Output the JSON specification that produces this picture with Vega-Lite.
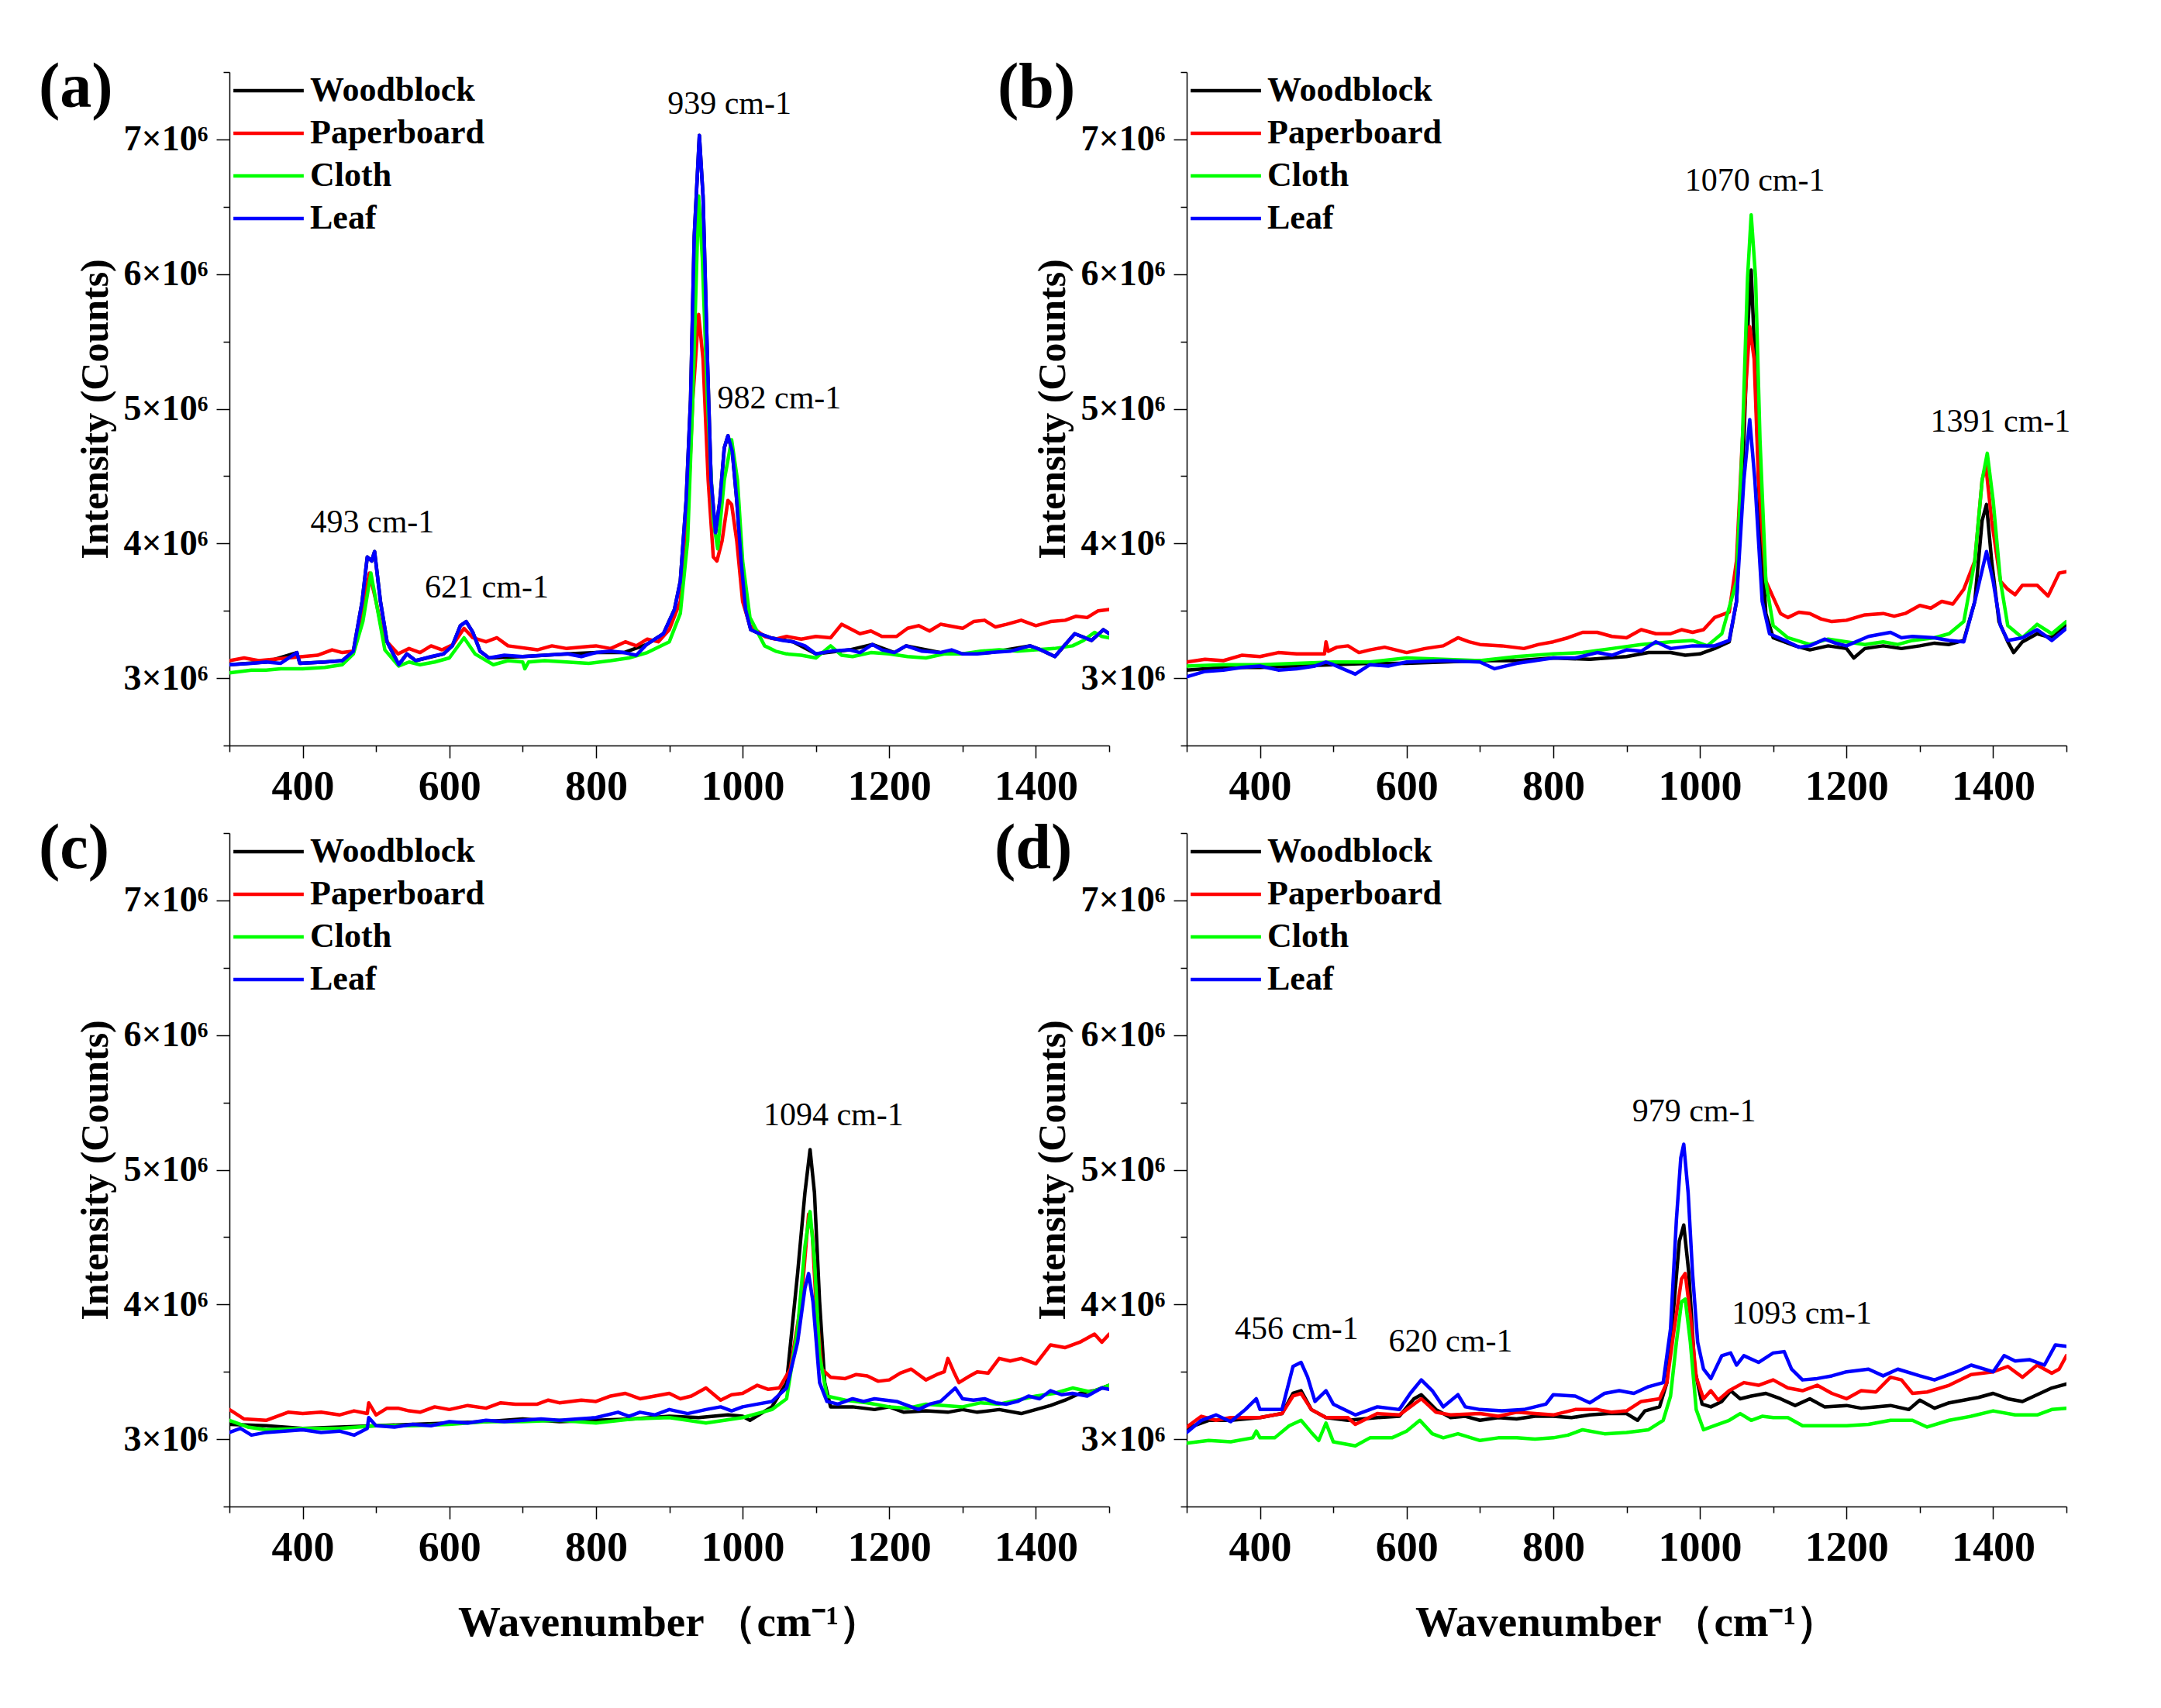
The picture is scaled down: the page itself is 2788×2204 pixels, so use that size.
{
"$schema": "https://vega.github.io/schema/vega-lite/v6.json",
"background": "white",
"padding": {"left": 50, "top": 71, "right": 40, "bottom": 40},
"columns": 2,
"bounds": "flush",
"spacing": {"row": 113, "column": 100},
"resolve": {"legend": {"color": "independent"}},
"config": {
  "view": {"stroke": null},
  "axis": {"labelFont": "Liberation Serif", "titleFont": "Liberation Serif", "labelFontWeight": "bold", "titleFontWeight": "bold", "labelColor": "black", "titleColor": "black", "domainColor": "black", "tickColor": "black", "domainWidth": 1.5, "tickWidth": 1.5, "grid": false},
  "legend": {"labelFont": "Liberation Serif", "labelFontWeight": "bold", "labelFontSize": 44, "labelColor": "black", "orient": "none", "legendX": 18, "legendY": -8.5, "title": null, "symbolType": "M-1.5,0H1.5", "symbolSize": 3660, "symbolStrokeWidth": 4.5, "labelOffset": 21, "rowPadding": 0, "padding": 0, "labelLimit": 0},
  "text": {"font": "Liberation Serif"},
  "line": {"strokeWidth": 4.5, "strokeJoin": "round", "strokeCap": "round"},
  "title": {"anchor": "start", "frame": "group", "orient": "top", "offset": -24, "dy": 46, "baseline": "alphabetic", "font": "Liberation Serif", "fontSize": 82, "fontWeight": "bold", "color": "black"}
},
"datasets": {
"a": [
{"s":"Woodblock","x":300,"y":3100000},{"s":"Woodblock","x":350,"y":3120000},{"s":"Woodblock","x":392,"y":3190000},{"s":"Woodblock","x":396,"y":3110000},{"s":"Woodblock","x":430,"y":3120000},{"s":"Woodblock","x":454,"y":3130000},{"s":"Woodblock","x":469,"y":3200000},{"s":"Woodblock","x":481,"y":3570000},{"s":"Woodblock","x":488,"y":3900000},{"s":"Woodblock","x":494,"y":3870000},{"s":"Woodblock","x":498,"y":3940000},{"s":"Woodblock","x":506,"y":3570000},{"s":"Woodblock","x":515,"y":3270000},{"s":"Woodblock","x":531,"y":3100000},{"s":"Woodblock","x":542,"y":3180000},{"s":"Woodblock","x":554,"y":3130000},{"s":"Woodblock","x":592,"y":3180000},{"s":"Woodblock","x":604,"y":3240000},{"s":"Woodblock","x":615,"y":3390000},{"s":"Woodblock","x":623,"y":3420000},{"s":"Woodblock","x":632,"y":3340000},{"s":"Woodblock","x":642,"y":3200000},{"s":"Woodblock","x":654,"y":3150000},{"s":"Woodblock","x":700,"y":3160000},{"s":"Woodblock","x":761,"y":3180000},{"s":"Woodblock","x":800,"y":3190000},{"s":"Woodblock","x":838,"y":3190000},{"s":"Woodblock","x":869,"y":3250000},{"s":"Woodblock","x":892,"y":3330000},{"s":"Woodblock","x":907,"y":3510000},{"s":"Woodblock","x":915,"y":3720000},{"s":"Woodblock","x":923,"y":4320000},{"s":"Woodblock","x":929,"y":5070000},{"s":"Woodblock","x":934,"y":6280000},{"s":"Woodblock","x":941,"y":7030000},{"s":"Woodblock","x":946,"y":6580000},{"s":"Woodblock","x":952,"y":5370000},{"s":"Woodblock","x":957,"y":4470000},{"s":"Woodblock","x":963,"y":4080000},{"s":"Woodblock","x":969,"y":4320000},{"s":"Woodblock","x":975,"y":4710000},{"s":"Woodblock","x":980,"y":4800000},{"s":"Woodblock","x":986,"y":4680000},{"s":"Woodblock","x":992,"y":4320000},{"s":"Woodblock","x":998,"y":3870000},{"s":"Woodblock","x":1004,"y":3510000},{"s":"Woodblock","x":1011,"y":3360000},{"s":"Woodblock","x":1023,"y":3330000},{"s":"Woodblock","x":1038,"y":3300000},{"s":"Woodblock","x":1069,"y":3270000},{"s":"Woodblock","x":1100,"y":3180000},{"s":"Woodblock","x":1146,"y":3210000},{"s":"Woodblock","x":1177,"y":3250000},{"s":"Woodblock","x":1207,"y":3190000},{"s":"Woodblock","x":1223,"y":3240000},{"s":"Woodblock","x":1269,"y":3190000},{"s":"Woodblock","x":1300,"y":3180000},{"s":"Woodblock","x":1338,"y":3190000},{"s":"Woodblock","x":1392,"y":3240000},{"s":"Woodblock","x":1407,"y":3210000},{"s":"Woodblock","x":1426,"y":3160000},{"s":"Woodblock","x":1453,"y":3330000},{"s":"Woodblock","x":1476,"y":3280000},{"s":"Woodblock","x":1492,"y":3360000},{"s":"Woodblock","x":1500,"y":3330000},
{"s":"Paperboard","x":300,"y":3130000},{"s":"Paperboard","x":320,"y":3150000},{"s":"Paperboard","x":340,"y":3130000},{"s":"Paperboard","x":380,"y":3150000},{"s":"Paperboard","x":420,"y":3170000},{"s":"Paperboard","x":440,"y":3210000},{"s":"Paperboard","x":454,"y":3190000},{"s":"Paperboard","x":469,"y":3200000},{"s":"Paperboard","x":481,"y":3480000},{"s":"Paperboard","x":491,"y":3780000},{"s":"Paperboard","x":500,"y":3570000},{"s":"Paperboard","x":510,"y":3300000},{"s":"Paperboard","x":530,"y":3180000},{"s":"Paperboard","x":545,"y":3220000},{"s":"Paperboard","x":560,"y":3190000},{"s":"Paperboard","x":575,"y":3240000},{"s":"Paperboard","x":590,"y":3210000},{"s":"Paperboard","x":605,"y":3250000},{"s":"Paperboard","x":620,"y":3370000},{"s":"Paperboard","x":632,"y":3300000},{"s":"Paperboard","x":650,"y":3270000},{"s":"Paperboard","x":665,"y":3300000},{"s":"Paperboard","x":680,"y":3240000},{"s":"Paperboard","x":720,"y":3210000},{"s":"Paperboard","x":740,"y":3240000},{"s":"Paperboard","x":760,"y":3220000},{"s":"Paperboard","x":800,"y":3240000},{"s":"Paperboard","x":820,"y":3220000},{"s":"Paperboard","x":840,"y":3270000},{"s":"Paperboard","x":855,"y":3240000},{"s":"Paperboard","x":870,"y":3290000},{"s":"Paperboard","x":885,"y":3270000},{"s":"Paperboard","x":900,"y":3360000},{"s":"Paperboard","x":915,"y":3570000},{"s":"Paperboard","x":925,"y":4170000},{"s":"Paperboard","x":932,"y":5070000},{"s":"Paperboard","x":940,"y":5700000},{"s":"Paperboard","x":946,"y":5370000},{"s":"Paperboard","x":953,"y":4470000},{"s":"Paperboard","x":960,"y":3900000},{"s":"Paperboard","x":965,"y":3870000},{"s":"Paperboard","x":972,"y":4020000},{"s":"Paperboard","x":980,"y":4320000},{"s":"Paperboard","x":985,"y":4290000},{"s":"Paperboard","x":992,"y":4020000},{"s":"Paperboard","x":1000,"y":3570000},{"s":"Paperboard","x":1010,"y":3390000},{"s":"Paperboard","x":1030,"y":3310000},{"s":"Paperboard","x":1045,"y":3290000},{"s":"Paperboard","x":1060,"y":3310000},{"s":"Paperboard","x":1080,"y":3290000},{"s":"Paperboard","x":1100,"y":3310000},{"s":"Paperboard","x":1120,"y":3300000},{"s":"Paperboard","x":1135,"y":3400000},{"s":"Paperboard","x":1160,"y":3330000},{"s":"Paperboard","x":1175,"y":3350000},{"s":"Paperboard","x":1190,"y":3310000},{"s":"Paperboard","x":1210,"y":3310000},{"s":"Paperboard","x":1225,"y":3370000},{"s":"Paperboard","x":1240,"y":3390000},{"s":"Paperboard","x":1255,"y":3350000},{"s":"Paperboard","x":1270,"y":3400000},{"s":"Paperboard","x":1290,"y":3380000},{"s":"Paperboard","x":1300,"y":3370000},{"s":"Paperboard","x":1315,"y":3420000},{"s":"Paperboard","x":1330,"y":3430000},{"s":"Paperboard","x":1345,"y":3380000},{"s":"Paperboard","x":1360,"y":3400000},{"s":"Paperboard","x":1380,"y":3430000},{"s":"Paperboard","x":1400,"y":3390000},{"s":"Paperboard","x":1420,"y":3420000},{"s":"Paperboard","x":1440,"y":3430000},{"s":"Paperboard","x":1455,"y":3460000},{"s":"Paperboard","x":1470,"y":3450000},{"s":"Paperboard","x":1485,"y":3500000},{"s":"Paperboard","x":1500,"y":3510000},
{"s":"Cloth","x":300,"y":3040000},{"s":"Cloth","x":330,"y":3060000},{"s":"Cloth","x":350,"y":3060000},{"s":"Cloth","x":370,"y":3070000},{"s":"Cloth","x":400,"y":3070000},{"s":"Cloth","x":430,"y":3080000},{"s":"Cloth","x":454,"y":3100000},{"s":"Cloth","x":469,"y":3180000},{"s":"Cloth","x":482,"y":3420000},{"s":"Cloth","x":493,"y":3780000},{"s":"Cloth","x":500,"y":3570000},{"s":"Cloth","x":512,"y":3210000},{"s":"Cloth","x":531,"y":3090000},{"s":"Cloth","x":545,"y":3120000},{"s":"Cloth","x":560,"y":3100000},{"s":"Cloth","x":580,"y":3120000},{"s":"Cloth","x":600,"y":3150000},{"s":"Cloth","x":620,"y":3300000},{"s":"Cloth","x":635,"y":3180000},{"s":"Cloth","x":660,"y":3100000},{"s":"Cloth","x":680,"y":3130000},{"s":"Cloth","x":700,"y":3120000},{"s":"Cloth","x":703,"y":3070000},{"s":"Cloth","x":708,"y":3120000},{"s":"Cloth","x":730,"y":3130000},{"s":"Cloth","x":760,"y":3120000},{"s":"Cloth","x":790,"y":3110000},{"s":"Cloth","x":820,"y":3130000},{"s":"Cloth","x":845,"y":3150000},{"s":"Cloth","x":870,"y":3190000},{"s":"Cloth","x":900,"y":3270000},{"s":"Cloth","x":915,"y":3480000},{"s":"Cloth","x":925,"y":4020000},{"s":"Cloth","x":932,"y":5070000},{"s":"Cloth","x":940,"y":6580000},{"s":"Cloth","x":945,"y":6120000},{"s":"Cloth","x":952,"y":5070000},{"s":"Cloth","x":960,"y":4170000},{"s":"Cloth","x":966,"y":3960000},{"s":"Cloth","x":975,"y":4470000},{"s":"Cloth","x":985,"y":4770000},{"s":"Cloth","x":993,"y":4470000},{"s":"Cloth","x":1000,"y":3870000},{"s":"Cloth","x":1010,"y":3450000},{"s":"Cloth","x":1030,"y":3240000},{"s":"Cloth","x":1045,"y":3200000},{"s":"Cloth","x":1060,"y":3180000},{"s":"Cloth","x":1080,"y":3170000},{"s":"Cloth","x":1100,"y":3150000},{"s":"Cloth","x":1120,"y":3240000},{"s":"Cloth","x":1135,"y":3170000},{"s":"Cloth","x":1150,"y":3160000},{"s":"Cloth","x":1175,"y":3190000},{"s":"Cloth","x":1200,"y":3180000},{"s":"Cloth","x":1225,"y":3160000},{"s":"Cloth","x":1250,"y":3150000},{"s":"Cloth","x":1275,"y":3180000},{"s":"Cloth","x":1300,"y":3180000},{"s":"Cloth","x":1325,"y":3200000},{"s":"Cloth","x":1350,"y":3210000},{"s":"Cloth","x":1375,"y":3200000},{"s":"Cloth","x":1400,"y":3210000},{"s":"Cloth","x":1425,"y":3220000},{"s":"Cloth","x":1450,"y":3240000},{"s":"Cloth","x":1465,"y":3280000},{"s":"Cloth","x":1480,"y":3340000},{"s":"Cloth","x":1490,"y":3310000},{"s":"Cloth","x":1500,"y":3300000},
{"s":"Leaf","x":300,"y":3100000},{"s":"Leaf","x":330,"y":3110000},{"s":"Leaf","x":350,"y":3120000},{"s":"Leaf","x":370,"y":3110000},{"s":"Leaf","x":392,"y":3190000},{"s":"Leaf","x":396,"y":3110000},{"s":"Leaf","x":430,"y":3120000},{"s":"Leaf","x":454,"y":3130000},{"s":"Leaf","x":469,"y":3200000},{"s":"Leaf","x":481,"y":3570000},{"s":"Leaf","x":488,"y":3900000},{"s":"Leaf","x":494,"y":3870000},{"s":"Leaf","x":498,"y":3940000},{"s":"Leaf","x":506,"y":3570000},{"s":"Leaf","x":515,"y":3270000},{"s":"Leaf","x":531,"y":3100000},{"s":"Leaf","x":542,"y":3180000},{"s":"Leaf","x":554,"y":3130000},{"s":"Leaf","x":575,"y":3160000},{"s":"Leaf","x":592,"y":3180000},{"s":"Leaf","x":604,"y":3240000},{"s":"Leaf","x":615,"y":3390000},{"s":"Leaf","x":623,"y":3420000},{"s":"Leaf","x":632,"y":3340000},{"s":"Leaf","x":642,"y":3200000},{"s":"Leaf","x":654,"y":3150000},{"s":"Leaf","x":675,"y":3170000},{"s":"Leaf","x":700,"y":3160000},{"s":"Leaf","x":730,"y":3170000},{"s":"Leaf","x":761,"y":3180000},{"s":"Leaf","x":780,"y":3160000},{"s":"Leaf","x":800,"y":3190000},{"s":"Leaf","x":820,"y":3200000},{"s":"Leaf","x":838,"y":3190000},{"s":"Leaf","x":855,"y":3170000},{"s":"Leaf","x":869,"y":3250000},{"s":"Leaf","x":892,"y":3330000},{"s":"Leaf","x":907,"y":3510000},{"s":"Leaf","x":915,"y":3720000},{"s":"Leaf","x":923,"y":4320000},{"s":"Leaf","x":929,"y":5070000},{"s":"Leaf","x":934,"y":6280000},{"s":"Leaf","x":941,"y":7030000},{"s":"Leaf","x":946,"y":6580000},{"s":"Leaf","x":952,"y":5370000},{"s":"Leaf","x":957,"y":4470000},{"s":"Leaf","x":963,"y":4080000},{"s":"Leaf","x":969,"y":4320000},{"s":"Leaf","x":975,"y":4710000},{"s":"Leaf","x":980,"y":4800000},{"s":"Leaf","x":986,"y":4680000},{"s":"Leaf","x":992,"y":4320000},{"s":"Leaf","x":998,"y":3870000},{"s":"Leaf","x":1004,"y":3510000},{"s":"Leaf","x":1011,"y":3360000},{"s":"Leaf","x":1023,"y":3330000},{"s":"Leaf","x":1038,"y":3300000},{"s":"Leaf","x":1055,"y":3280000},{"s":"Leaf","x":1069,"y":3270000},{"s":"Leaf","x":1085,"y":3240000},{"s":"Leaf","x":1100,"y":3180000},{"s":"Leaf","x":1120,"y":3200000},{"s":"Leaf","x":1146,"y":3210000},{"s":"Leaf","x":1160,"y":3190000},{"s":"Leaf","x":1177,"y":3250000},{"s":"Leaf","x":1190,"y":3210000},{"s":"Leaf","x":1207,"y":3190000},{"s":"Leaf","x":1223,"y":3240000},{"s":"Leaf","x":1245,"y":3200000},{"s":"Leaf","x":1269,"y":3190000},{"s":"Leaf","x":1285,"y":3210000},{"s":"Leaf","x":1300,"y":3180000},{"s":"Leaf","x":1320,"y":3180000},{"s":"Leaf","x":1338,"y":3190000},{"s":"Leaf","x":1365,"y":3200000},{"s":"Leaf","x":1392,"y":3240000},{"s":"Leaf","x":1407,"y":3210000},{"s":"Leaf","x":1426,"y":3160000},{"s":"Leaf","x":1440,"y":3250000},{"s":"Leaf","x":1453,"y":3330000},{"s":"Leaf","x":1476,"y":3280000},{"s":"Leaf","x":1492,"y":3360000},{"s":"Leaf","x":1500,"y":3330000}
],
"aT": [{"t":"493 cm-1","x":495,"y":4080000},{"t":"621 cm-1","x":651,"y":3600000},{"t":"939 cm-1","x":982,"y":7190000},{"t":"982 cm-1","x":1050,"y":5005000}],
"b": [
{"s":"Woodblock","x":300,"y":3060000},{"s":"Woodblock","x":350,"y":3080000},{"s":"Woodblock","x":400,"y":3080000},{"s":"Woodblock","x":450,"y":3090000},{"s":"Woodblock","x":500,"y":3100000},{"s":"Woodblock","x":550,"y":3110000},{"s":"Woodblock","x":600,"y":3110000},{"s":"Woodblock","x":650,"y":3120000},{"s":"Woodblock","x":700,"y":3130000},{"s":"Woodblock","x":750,"y":3130000},{"s":"Woodblock","x":800,"y":3150000},{"s":"Woodblock","x":850,"y":3140000},{"s":"Woodblock","x":900,"y":3160000},{"s":"Woodblock","x":930,"y":3190000},{"s":"Woodblock","x":960,"y":3190000},{"s":"Woodblock","x":980,"y":3170000},{"s":"Woodblock","x":1000,"y":3180000},{"s":"Woodblock","x":1020,"y":3220000},{"s":"Woodblock","x":1040,"y":3270000},{"s":"Woodblock","x":1050,"y":3570000},{"s":"Woodblock","x":1060,"y":4770000},{"s":"Woodblock","x":1066,"y":5670000},{"s":"Woodblock","x":1070,"y":6030000},{"s":"Woodblock","x":1075,"y":5370000},{"s":"Woodblock","x":1082,"y":4170000},{"s":"Woodblock","x":1090,"y":3480000},{"s":"Woodblock","x":1100,"y":3300000},{"s":"Woodblock","x":1115,"y":3270000},{"s":"Woodblock","x":1130,"y":3240000},{"s":"Woodblock","x":1150,"y":3210000},{"s":"Woodblock","x":1175,"y":3240000},{"s":"Woodblock","x":1200,"y":3220000},{"s":"Woodblock","x":1210,"y":3150000},{"s":"Woodblock","x":1225,"y":3220000},{"s":"Woodblock","x":1250,"y":3240000},{"s":"Woodblock","x":1275,"y":3220000},{"s":"Woodblock","x":1300,"y":3240000},{"s":"Woodblock","x":1320,"y":3260000},{"s":"Woodblock","x":1340,"y":3250000},{"s":"Woodblock","x":1360,"y":3280000},{"s":"Woodblock","x":1375,"y":3570000},{"s":"Woodblock","x":1385,"y":4170000},{"s":"Woodblock","x":1391,"y":4290000},{"s":"Woodblock","x":1398,"y":3870000},{"s":"Woodblock","x":1408,"y":3420000},{"s":"Woodblock","x":1420,"y":3270000},{"s":"Woodblock","x":1428,"y":3190000},{"s":"Woodblock","x":1440,"y":3270000},{"s":"Woodblock","x":1460,"y":3330000},{"s":"Woodblock","x":1480,"y":3300000},{"s":"Woodblock","x":1500,"y":3390000},
{"s":"Paperboard","x":300,"y":3120000},{"s":"Paperboard","x":325,"y":3140000},{"s":"Paperboard","x":350,"y":3130000},{"s":"Paperboard","x":375,"y":3170000},{"s":"Paperboard","x":400,"y":3160000},{"s":"Paperboard","x":425,"y":3190000},{"s":"Paperboard","x":450,"y":3180000},{"s":"Paperboard","x":488,"y":3180000},{"s":"Paperboard","x":490,"y":3270000},{"s":"Paperboard","x":493,"y":3200000},{"s":"Paperboard","x":505,"y":3230000},{"s":"Paperboard","x":520,"y":3240000},{"s":"Paperboard","x":535,"y":3190000},{"s":"Paperboard","x":550,"y":3210000},{"s":"Paperboard","x":570,"y":3230000},{"s":"Paperboard","x":600,"y":3190000},{"s":"Paperboard","x":625,"y":3220000},{"s":"Paperboard","x":650,"y":3240000},{"s":"Paperboard","x":670,"y":3300000},{"s":"Paperboard","x":685,"y":3270000},{"s":"Paperboard","x":700,"y":3250000},{"s":"Paperboard","x":730,"y":3240000},{"s":"Paperboard","x":760,"y":3220000},{"s":"Paperboard","x":780,"y":3250000},{"s":"Paperboard","x":800,"y":3270000},{"s":"Paperboard","x":820,"y":3300000},{"s":"Paperboard","x":840,"y":3340000},{"s":"Paperboard","x":860,"y":3340000},{"s":"Paperboard","x":880,"y":3310000},{"s":"Paperboard","x":900,"y":3300000},{"s":"Paperboard","x":920,"y":3360000},{"s":"Paperboard","x":940,"y":3330000},{"s":"Paperboard","x":960,"y":3330000},{"s":"Paperboard","x":975,"y":3360000},{"s":"Paperboard","x":990,"y":3340000},{"s":"Paperboard","x":1005,"y":3360000},{"s":"Paperboard","x":1020,"y":3450000},{"s":"Paperboard","x":1040,"y":3490000},{"s":"Paperboard","x":1050,"y":3870000},{"s":"Paperboard","x":1058,"y":4770000},{"s":"Paperboard","x":1068,"y":5610000},{"s":"Paperboard","x":1074,"y":5370000},{"s":"Paperboard","x":1080,"y":4470000},{"s":"Paperboard","x":1090,"y":3720000},{"s":"Paperboard","x":1100,"y":3600000},{"s":"Paperboard","x":1110,"y":3480000},{"s":"Paperboard","x":1120,"y":3450000},{"s":"Paperboard","x":1135,"y":3490000},{"s":"Paperboard","x":1150,"y":3480000},{"s":"Paperboard","x":1165,"y":3440000},{"s":"Paperboard","x":1180,"y":3420000},{"s":"Paperboard","x":1200,"y":3430000},{"s":"Paperboard","x":1225,"y":3470000},{"s":"Paperboard","x":1250,"y":3480000},{"s":"Paperboard","x":1265,"y":3460000},{"s":"Paperboard","x":1280,"y":3480000},{"s":"Paperboard","x":1300,"y":3540000},{"s":"Paperboard","x":1315,"y":3520000},{"s":"Paperboard","x":1330,"y":3570000},{"s":"Paperboard","x":1345,"y":3550000},{"s":"Paperboard","x":1360,"y":3660000},{"s":"Paperboard","x":1375,"y":3870000},{"s":"Paperboard","x":1385,"y":4470000},{"s":"Paperboard","x":1390,"y":4580000},{"s":"Paperboard","x":1398,"y":4170000},{"s":"Paperboard","x":1410,"y":3720000},{"s":"Paperboard","x":1420,"y":3660000},{"s":"Paperboard","x":1430,"y":3620000},{"s":"Paperboard","x":1440,"y":3690000},{"s":"Paperboard","x":1460,"y":3690000},{"s":"Paperboard","x":1475,"y":3610000},{"s":"Paperboard","x":1490,"y":3780000},{"s":"Paperboard","x":1500,"y":3790000},
{"s":"Cloth","x":300,"y":3090000},{"s":"Cloth","x":350,"y":3100000},{"s":"Cloth","x":400,"y":3100000},{"s":"Cloth","x":450,"y":3110000},{"s":"Cloth","x":500,"y":3120000},{"s":"Cloth","x":550,"y":3120000},{"s":"Cloth","x":600,"y":3150000},{"s":"Cloth","x":650,"y":3140000},{"s":"Cloth","x":700,"y":3130000},{"s":"Cloth","x":750,"y":3160000},{"s":"Cloth","x":800,"y":3180000},{"s":"Cloth","x":840,"y":3190000},{"s":"Cloth","x":880,"y":3220000},{"s":"Cloth","x":920,"y":3250000},{"s":"Cloth","x":960,"y":3270000},{"s":"Cloth","x":990,"y":3280000},{"s":"Cloth","x":1010,"y":3240000},{"s":"Cloth","x":1030,"y":3330000},{"s":"Cloth","x":1050,"y":3720000},{"s":"Cloth","x":1058,"y":4770000},{"s":"Cloth","x":1065,"y":5970000},{"s":"Cloth","x":1070,"y":6440000},{"s":"Cloth","x":1076,"y":5970000},{"s":"Cloth","x":1082,"y":4770000},{"s":"Cloth","x":1090,"y":3720000},{"s":"Cloth","x":1100,"y":3390000},{"s":"Cloth","x":1120,"y":3300000},{"s":"Cloth","x":1150,"y":3250000},{"s":"Cloth","x":1175,"y":3290000},{"s":"Cloth","x":1200,"y":3270000},{"s":"Cloth","x":1225,"y":3250000},{"s":"Cloth","x":1250,"y":3270000},{"s":"Cloth","x":1270,"y":3250000},{"s":"Cloth","x":1290,"y":3280000},{"s":"Cloth","x":1320,"y":3300000},{"s":"Cloth","x":1340,"y":3330000},{"s":"Cloth","x":1360,"y":3420000},{"s":"Cloth","x":1375,"y":3870000},{"s":"Cloth","x":1385,"y":4470000},{"s":"Cloth","x":1392,"y":4670000},{"s":"Cloth","x":1400,"y":4320000},{"s":"Cloth","x":1410,"y":3720000},{"s":"Cloth","x":1420,"y":3390000},{"s":"Cloth","x":1440,"y":3300000},{"s":"Cloth","x":1460,"y":3400000},{"s":"Cloth","x":1480,"y":3330000},{"s":"Cloth","x":1500,"y":3420000},
{"s":"Leaf","x":300,"y":3010000},{"s":"Leaf","x":325,"y":3050000},{"s":"Leaf","x":350,"y":3060000},{"s":"Leaf","x":375,"y":3080000},{"s":"Leaf","x":400,"y":3090000},{"s":"Leaf","x":425,"y":3060000},{"s":"Leaf","x":450,"y":3070000},{"s":"Leaf","x":475,"y":3090000},{"s":"Leaf","x":490,"y":3120000},{"s":"Leaf","x":500,"y":3100000},{"s":"Leaf","x":530,"y":3030000},{"s":"Leaf","x":550,"y":3100000},{"s":"Leaf","x":575,"y":3090000},{"s":"Leaf","x":600,"y":3120000},{"s":"Leaf","x":650,"y":3130000},{"s":"Leaf","x":700,"y":3120000},{"s":"Leaf","x":720,"y":3070000},{"s":"Leaf","x":750,"y":3110000},{"s":"Leaf","x":800,"y":3150000},{"s":"Leaf","x":830,"y":3150000},{"s":"Leaf","x":860,"y":3190000},{"s":"Leaf","x":880,"y":3170000},{"s":"Leaf","x":900,"y":3210000},{"s":"Leaf","x":920,"y":3200000},{"s":"Leaf","x":940,"y":3270000},{"s":"Leaf","x":960,"y":3220000},{"s":"Leaf","x":990,"y":3240000},{"s":"Leaf","x":1020,"y":3240000},{"s":"Leaf","x":1040,"y":3280000},{"s":"Leaf","x":1050,"y":3570000},{"s":"Leaf","x":1060,"y":4470000},{"s":"Leaf","x":1068,"y":4920000},{"s":"Leaf","x":1075,"y":4470000},{"s":"Leaf","x":1085,"y":3570000},{"s":"Leaf","x":1095,"y":3330000},{"s":"Leaf","x":1120,"y":3270000},{"s":"Leaf","x":1135,"y":3230000},{"s":"Leaf","x":1150,"y":3240000},{"s":"Leaf","x":1170,"y":3290000},{"s":"Leaf","x":1185,"y":3260000},{"s":"Leaf","x":1200,"y":3240000},{"s":"Leaf","x":1230,"y":3310000},{"s":"Leaf","x":1260,"y":3340000},{"s":"Leaf","x":1275,"y":3300000},{"s":"Leaf","x":1290,"y":3310000},{"s":"Leaf","x":1320,"y":3300000},{"s":"Leaf","x":1340,"y":3280000},{"s":"Leaf","x":1360,"y":3270000},{"s":"Leaf","x":1375,"y":3570000},{"s":"Leaf","x":1391,"y":3940000},{"s":"Leaf","x":1400,"y":3720000},{"s":"Leaf","x":1410,"y":3390000},{"s":"Leaf","x":1420,"y":3280000},{"s":"Leaf","x":1440,"y":3300000},{"s":"Leaf","x":1460,"y":3360000},{"s":"Leaf","x":1480,"y":3280000},{"s":"Leaf","x":1500,"y":3370000}
],
"bT": [{"t":"1070 cm-1","x":1075,"y":6620000},{"t":"1391 cm-1","x":1410,"y":4830000}],
"c": [
{"s":"Woodblock","x":300,"y":3110000},{"s":"Woodblock","x":350,"y":3100000},{"s":"Woodblock","x":400,"y":3080000},{"s":"Woodblock","x":450,"y":3090000},{"s":"Woodblock","x":500,"y":3100000},{"s":"Woodblock","x":550,"y":3110000},{"s":"Woodblock","x":600,"y":3120000},{"s":"Woodblock","x":650,"y":3130000},{"s":"Woodblock","x":700,"y":3150000},{"s":"Woodblock","x":750,"y":3130000},{"s":"Woodblock","x":800,"y":3140000},{"s":"Woodblock","x":850,"y":3150000},{"s":"Woodblock","x":900,"y":3170000},{"s":"Woodblock","x":940,"y":3160000},{"s":"Woodblock","x":980,"y":3180000},{"s":"Woodblock","x":1000,"y":3170000},{"s":"Woodblock","x":1010,"y":3140000},{"s":"Woodblock","x":1040,"y":3240000},{"s":"Woodblock","x":1060,"y":3420000},{"s":"Woodblock","x":1075,"y":4230000},{"s":"Woodblock","x":1085,"y":4830000},{"s":"Woodblock","x":1092,"y":5150000},{"s":"Woodblock","x":1098,"y":4830000},{"s":"Woodblock","x":1105,"y":4020000},{"s":"Woodblock","x":1112,"y":3420000},{"s":"Woodblock","x":1120,"y":3240000},{"s":"Woodblock","x":1150,"y":3240000},{"s":"Woodblock","x":1180,"y":3220000},{"s":"Woodblock","x":1200,"y":3240000},{"s":"Woodblock","x":1220,"y":3200000},{"s":"Woodblock","x":1250,"y":3210000},{"s":"Woodblock","x":1280,"y":3200000},{"s":"Woodblock","x":1300,"y":3220000},{"s":"Woodblock","x":1320,"y":3200000},{"s":"Woodblock","x":1350,"y":3220000},{"s":"Woodblock","x":1380,"y":3190000},{"s":"Woodblock","x":1400,"y":3220000},{"s":"Woodblock","x":1420,"y":3250000},{"s":"Woodblock","x":1440,"y":3290000},{"s":"Woodblock","x":1460,"y":3340000},{"s":"Woodblock","x":1480,"y":3360000},{"s":"Woodblock","x":1500,"y":3400000},
{"s":"Paperboard","x":300,"y":3220000},{"s":"Paperboard","x":320,"y":3150000},{"s":"Paperboard","x":350,"y":3140000},{"s":"Paperboard","x":380,"y":3200000},{"s":"Paperboard","x":400,"y":3190000},{"s":"Paperboard","x":425,"y":3200000},{"s":"Paperboard","x":450,"y":3180000},{"s":"Paperboard","x":470,"y":3210000},{"s":"Paperboard","x":488,"y":3190000},{"s":"Paperboard","x":490,"y":3270000},{"s":"Paperboard","x":500,"y":3180000},{"s":"Paperboard","x":515,"y":3230000},{"s":"Paperboard","x":530,"y":3230000},{"s":"Paperboard","x":545,"y":3210000},{"s":"Paperboard","x":560,"y":3200000},{"s":"Paperboard","x":580,"y":3240000},{"s":"Paperboard","x":600,"y":3220000},{"s":"Paperboard","x":625,"y":3250000},{"s":"Paperboard","x":650,"y":3230000},{"s":"Paperboard","x":670,"y":3270000},{"s":"Paperboard","x":690,"y":3260000},{"s":"Paperboard","x":720,"y":3260000},{"s":"Paperboard","x":735,"y":3290000},{"s":"Paperboard","x":750,"y":3270000},{"s":"Paperboard","x":780,"y":3290000},{"s":"Paperboard","x":800,"y":3280000},{"s":"Paperboard","x":820,"y":3320000},{"s":"Paperboard","x":840,"y":3340000},{"s":"Paperboard","x":860,"y":3300000},{"s":"Paperboard","x":880,"y":3320000},{"s":"Paperboard","x":900,"y":3340000},{"s":"Paperboard","x":915,"y":3300000},{"s":"Paperboard","x":930,"y":3320000},{"s":"Paperboard","x":950,"y":3380000},{"s":"Paperboard","x":970,"y":3290000},{"s":"Paperboard","x":985,"y":3330000},{"s":"Paperboard","x":1000,"y":3340000},{"s":"Paperboard","x":1020,"y":3400000},{"s":"Paperboard","x":1035,"y":3370000},{"s":"Paperboard","x":1050,"y":3380000},{"s":"Paperboard","x":1065,"y":3520000},{"s":"Paperboard","x":1080,"y":4020000},{"s":"Paperboard","x":1090,"y":4670000},{"s":"Paperboard","x":1095,"y":4530000},{"s":"Paperboard","x":1100,"y":4020000},{"s":"Paperboard","x":1108,"y":3520000},{"s":"Paperboard","x":1120,"y":3460000},{"s":"Paperboard","x":1140,"y":3450000},{"s":"Paperboard","x":1155,"y":3480000},{"s":"Paperboard","x":1170,"y":3470000},{"s":"Paperboard","x":1185,"y":3430000},{"s":"Paperboard","x":1200,"y":3440000},{"s":"Paperboard","x":1215,"y":3490000},{"s":"Paperboard","x":1230,"y":3520000},{"s":"Paperboard","x":1250,"y":3440000},{"s":"Paperboard","x":1265,"y":3480000},{"s":"Paperboard","x":1275,"y":3500000},{"s":"Paperboard","x":1280,"y":3600000},{"s":"Paperboard","x":1288,"y":3500000},{"s":"Paperboard","x":1295,"y":3420000},{"s":"Paperboard","x":1310,"y":3470000},{"s":"Paperboard","x":1320,"y":3500000},{"s":"Paperboard","x":1335,"y":3490000},{"s":"Paperboard","x":1350,"y":3600000},{"s":"Paperboard","x":1365,"y":3580000},{"s":"Paperboard","x":1380,"y":3600000},{"s":"Paperboard","x":1400,"y":3560000},{"s":"Paperboard","x":1420,"y":3700000},{"s":"Paperboard","x":1440,"y":3680000},{"s":"Paperboard","x":1460,"y":3720000},{"s":"Paperboard","x":1480,"y":3780000},{"s":"Paperboard","x":1490,"y":3720000},{"s":"Paperboard","x":1500,"y":3780000},
{"s":"Cloth","x":300,"y":3140000},{"s":"Cloth","x":325,"y":3090000},{"s":"Cloth","x":350,"y":3070000},{"s":"Cloth","x":400,"y":3080000},{"s":"Cloth","x":450,"y":3080000},{"s":"Cloth","x":500,"y":3100000},{"s":"Cloth","x":550,"y":3100000},{"s":"Cloth","x":600,"y":3110000},{"s":"Cloth","x":650,"y":3130000},{"s":"Cloth","x":700,"y":3130000},{"s":"Cloth","x":750,"y":3140000},{"s":"Cloth","x":800,"y":3120000},{"s":"Cloth","x":850,"y":3150000},{"s":"Cloth","x":900,"y":3160000},{"s":"Cloth","x":950,"y":3120000},{"s":"Cloth","x":1000,"y":3160000},{"s":"Cloth","x":1040,"y":3220000},{"s":"Cloth","x":1060,"y":3300000},{"s":"Cloth","x":1075,"y":3820000},{"s":"Cloth","x":1085,"y":4430000},{"s":"Cloth","x":1092,"y":4690000},{"s":"Cloth","x":1098,"y":4330000},{"s":"Cloth","x":1105,"y":3620000},{"s":"Cloth","x":1115,"y":3320000},{"s":"Cloth","x":1140,"y":3290000},{"s":"Cloth","x":1170,"y":3270000},{"s":"Cloth","x":1200,"y":3240000},{"s":"Cloth","x":1225,"y":3230000},{"s":"Cloth","x":1250,"y":3260000},{"s":"Cloth","x":1275,"y":3250000},{"s":"Cloth","x":1300,"y":3240000},{"s":"Cloth","x":1325,"y":3270000},{"s":"Cloth","x":1350,"y":3260000},{"s":"Cloth","x":1375,"y":3290000},{"s":"Cloth","x":1400,"y":3320000},{"s":"Cloth","x":1425,"y":3340000},{"s":"Cloth","x":1450,"y":3380000},{"s":"Cloth","x":1475,"y":3350000},{"s":"Cloth","x":1500,"y":3400000},
{"s":"Leaf","x":300,"y":3050000},{"s":"Leaf","x":315,"y":3080000},{"s":"Leaf","x":330,"y":3030000},{"s":"Leaf","x":350,"y":3050000},{"s":"Leaf","x":375,"y":3060000},{"s":"Leaf","x":400,"y":3070000},{"s":"Leaf","x":425,"y":3050000},{"s":"Leaf","x":450,"y":3060000},{"s":"Leaf","x":470,"y":3030000},{"s":"Leaf","x":488,"y":3080000},{"s":"Leaf","x":490,"y":3160000},{"s":"Leaf","x":500,"y":3100000},{"s":"Leaf","x":525,"y":3090000},{"s":"Leaf","x":550,"y":3110000},{"s":"Leaf","x":575,"y":3100000},{"s":"Leaf","x":600,"y":3130000},{"s":"Leaf","x":625,"y":3120000},{"s":"Leaf","x":650,"y":3140000},{"s":"Leaf","x":675,"y":3130000},{"s":"Leaf","x":700,"y":3140000},{"s":"Leaf","x":725,"y":3150000},{"s":"Leaf","x":750,"y":3140000},{"s":"Leaf","x":775,"y":3150000},{"s":"Leaf","x":800,"y":3160000},{"s":"Leaf","x":830,"y":3200000},{"s":"Leaf","x":845,"y":3170000},{"s":"Leaf","x":860,"y":3200000},{"s":"Leaf","x":880,"y":3180000},{"s":"Leaf","x":900,"y":3220000},{"s":"Leaf","x":925,"y":3190000},{"s":"Leaf","x":950,"y":3220000},{"s":"Leaf","x":970,"y":3240000},{"s":"Leaf","x":985,"y":3210000},{"s":"Leaf","x":1000,"y":3240000},{"s":"Leaf","x":1020,"y":3260000},{"s":"Leaf","x":1040,"y":3280000},{"s":"Leaf","x":1060,"y":3380000},{"s":"Leaf","x":1075,"y":3720000},{"s":"Leaf","x":1085,"y":4120000},{"s":"Leaf","x":1090,"y":4230000},{"s":"Leaf","x":1096,"y":4020000},{"s":"Leaf","x":1105,"y":3420000},{"s":"Leaf","x":1115,"y":3280000},{"s":"Leaf","x":1130,"y":3260000},{"s":"Leaf","x":1150,"y":3300000},{"s":"Leaf","x":1165,"y":3280000},{"s":"Leaf","x":1180,"y":3300000},{"s":"Leaf","x":1210,"y":3280000},{"s":"Leaf","x":1240,"y":3220000},{"s":"Leaf","x":1255,"y":3260000},{"s":"Leaf","x":1270,"y":3280000},{"s":"Leaf","x":1290,"y":3380000},{"s":"Leaf","x":1300,"y":3300000},{"s":"Leaf","x":1315,"y":3290000},{"s":"Leaf","x":1330,"y":3300000},{"s":"Leaf","x":1345,"y":3270000},{"s":"Leaf","x":1360,"y":3260000},{"s":"Leaf","x":1375,"y":3280000},{"s":"Leaf","x":1390,"y":3320000},{"s":"Leaf","x":1405,"y":3300000},{"s":"Leaf","x":1420,"y":3360000},{"s":"Leaf","x":1435,"y":3330000},{"s":"Leaf","x":1450,"y":3340000},{"s":"Leaf","x":1470,"y":3320000},{"s":"Leaf","x":1490,"y":3380000},{"s":"Leaf","x":1500,"y":3370000}
],
"cT": [{"t":"1094 cm-1","x":1124,"y":5330000}],
"d": [
{"s":"Woodblock","x":300,"y":3080000},{"s":"Woodblock","x":330,"y":3140000},{"s":"Woodblock","x":360,"y":3140000},{"s":"Woodblock","x":400,"y":3160000},{"s":"Woodblock","x":430,"y":3190000},{"s":"Woodblock","x":445,"y":3340000},{"s":"Woodblock","x":456,"y":3360000},{"s":"Woodblock","x":470,"y":3220000},{"s":"Woodblock","x":490,"y":3160000},{"s":"Woodblock","x":520,"y":3140000},{"s":"Woodblock","x":560,"y":3160000},{"s":"Woodblock","x":590,"y":3170000},{"s":"Woodblock","x":610,"y":3300000},{"s":"Woodblock","x":620,"y":3330000},{"s":"Woodblock","x":640,"y":3220000},{"s":"Woodblock","x":660,"y":3160000},{"s":"Woodblock","x":680,"y":3170000},{"s":"Woodblock","x":700,"y":3140000},{"s":"Woodblock","x":725,"y":3160000},{"s":"Woodblock","x":750,"y":3150000},{"s":"Woodblock","x":775,"y":3170000},{"s":"Woodblock","x":800,"y":3170000},{"s":"Woodblock","x":825,"y":3160000},{"s":"Woodblock","x":850,"y":3180000},{"s":"Woodblock","x":875,"y":3190000},{"s":"Woodblock","x":900,"y":3190000},{"s":"Woodblock","x":915,"y":3140000},{"s":"Woodblock","x":925,"y":3210000},{"s":"Woodblock","x":945,"y":3240000},{"s":"Woodblock","x":955,"y":3420000},{"s":"Woodblock","x":965,"y":4020000},{"s":"Woodblock","x":972,"y":4470000},{"s":"Woodblock","x":978,"y":4590000},{"s":"Woodblock","x":985,"y":4230000},{"s":"Woodblock","x":993,"y":3520000},{"s":"Woodblock","x":1003,"y":3260000},{"s":"Woodblock","x":1015,"y":3240000},{"s":"Woodblock","x":1030,"y":3280000},{"s":"Woodblock","x":1042,"y":3360000},{"s":"Woodblock","x":1055,"y":3300000},{"s":"Woodblock","x":1070,"y":3320000},{"s":"Woodblock","x":1090,"y":3340000},{"s":"Woodblock","x":1110,"y":3300000},{"s":"Woodblock","x":1130,"y":3250000},{"s":"Woodblock","x":1150,"y":3300000},{"s":"Woodblock","x":1170,"y":3240000},{"s":"Woodblock","x":1200,"y":3250000},{"s":"Woodblock","x":1220,"y":3230000},{"s":"Woodblock","x":1240,"y":3240000},{"s":"Woodblock","x":1260,"y":3250000},{"s":"Woodblock","x":1285,"y":3220000},{"s":"Woodblock","x":1300,"y":3290000},{"s":"Woodblock","x":1320,"y":3230000},{"s":"Woodblock","x":1340,"y":3270000},{"s":"Woodblock","x":1360,"y":3290000},{"s":"Woodblock","x":1380,"y":3310000},{"s":"Woodblock","x":1400,"y":3340000},{"s":"Woodblock","x":1420,"y":3300000},{"s":"Woodblock","x":1440,"y":3280000},{"s":"Woodblock","x":1460,"y":3330000},{"s":"Woodblock","x":1480,"y":3380000},{"s":"Woodblock","x":1500,"y":3410000},
{"s":"Paperboard","x":300,"y":3090000},{"s":"Paperboard","x":320,"y":3170000},{"s":"Paperboard","x":340,"y":3140000},{"s":"Paperboard","x":360,"y":3160000},{"s":"Paperboard","x":400,"y":3160000},{"s":"Paperboard","x":430,"y":3190000},{"s":"Paperboard","x":445,"y":3320000},{"s":"Paperboard","x":456,"y":3340000},{"s":"Paperboard","x":470,"y":3220000},{"s":"Paperboard","x":490,"y":3160000},{"s":"Paperboard","x":520,"y":3160000},{"s":"Paperboard","x":530,"y":3110000},{"s":"Paperboard","x":560,"y":3190000},{"s":"Paperboard","x":590,"y":3180000},{"s":"Paperboard","x":610,"y":3260000},{"s":"Paperboard","x":620,"y":3300000},{"s":"Paperboard","x":640,"y":3200000},{"s":"Paperboard","x":660,"y":3180000},{"s":"Paperboard","x":700,"y":3190000},{"s":"Paperboard","x":725,"y":3170000},{"s":"Paperboard","x":750,"y":3200000},{"s":"Paperboard","x":775,"y":3190000},{"s":"Paperboard","x":800,"y":3180000},{"s":"Paperboard","x":830,"y":3220000},{"s":"Paperboard","x":860,"y":3220000},{"s":"Paperboard","x":880,"y":3200000},{"s":"Paperboard","x":900,"y":3210000},{"s":"Paperboard","x":920,"y":3280000},{"s":"Paperboard","x":945,"y":3300000},{"s":"Paperboard","x":955,"y":3420000},{"s":"Paperboard","x":965,"y":3820000},{"s":"Paperboard","x":975,"y":4190000},{"s":"Paperboard","x":980,"y":4230000},{"s":"Paperboard","x":987,"y":3920000},{"s":"Paperboard","x":995,"y":3460000},{"s":"Paperboard","x":1005,"y":3300000},{"s":"Paperboard","x":1015,"y":3360000},{"s":"Paperboard","x":1025,"y":3290000},{"s":"Paperboard","x":1040,"y":3360000},{"s":"Paperboard","x":1060,"y":3420000},{"s":"Paperboard","x":1080,"y":3400000},{"s":"Paperboard","x":1100,"y":3440000},{"s":"Paperboard","x":1120,"y":3380000},{"s":"Paperboard","x":1140,"y":3360000},{"s":"Paperboard","x":1160,"y":3400000},{"s":"Paperboard","x":1180,"y":3340000},{"s":"Paperboard","x":1200,"y":3300000},{"s":"Paperboard","x":1220,"y":3360000},{"s":"Paperboard","x":1240,"y":3350000},{"s":"Paperboard","x":1260,"y":3460000},{"s":"Paperboard","x":1275,"y":3440000},{"s":"Paperboard","x":1290,"y":3340000},{"s":"Paperboard","x":1310,"y":3350000},{"s":"Paperboard","x":1340,"y":3400000},{"s":"Paperboard","x":1370,"y":3480000},{"s":"Paperboard","x":1400,"y":3500000},{"s":"Paperboard","x":1420,"y":3540000},{"s":"Paperboard","x":1440,"y":3460000},{"s":"Paperboard","x":1460,"y":3550000},{"s":"Paperboard","x":1480,"y":3490000},{"s":"Paperboard","x":1490,"y":3520000},{"s":"Paperboard","x":1500,"y":3620000},
{"s":"Cloth","x":300,"y":2970000},{"s":"Cloth","x":330,"y":2990000},{"s":"Cloth","x":360,"y":2980000},{"s":"Cloth","x":390,"y":3010000},{"s":"Cloth","x":395,"y":3060000},{"s":"Cloth","x":400,"y":3010000},{"s":"Cloth","x":420,"y":3010000},{"s":"Cloth","x":440,"y":3100000},{"s":"Cloth","x":456,"y":3140000},{"s":"Cloth","x":470,"y":3050000},{"s":"Cloth","x":480,"y":2990000},{"s":"Cloth","x":490,"y":3120000},{"s":"Cloth","x":500,"y":2980000},{"s":"Cloth","x":530,"y":2950000},{"s":"Cloth","x":550,"y":3010000},{"s":"Cloth","x":580,"y":3010000},{"s":"Cloth","x":600,"y":3060000},{"s":"Cloth","x":618,"y":3140000},{"s":"Cloth","x":635,"y":3040000},{"s":"Cloth","x":650,"y":3010000},{"s":"Cloth","x":670,"y":3040000},{"s":"Cloth","x":700,"y":2990000},{"s":"Cloth","x":725,"y":3010000},{"s":"Cloth","x":750,"y":3010000},{"s":"Cloth","x":775,"y":3000000},{"s":"Cloth","x":800,"y":3010000},{"s":"Cloth","x":820,"y":3030000},{"s":"Cloth","x":840,"y":3070000},{"s":"Cloth","x":870,"y":3040000},{"s":"Cloth","x":900,"y":3050000},{"s":"Cloth","x":930,"y":3070000},{"s":"Cloth","x":950,"y":3140000},{"s":"Cloth","x":960,"y":3320000},{"s":"Cloth","x":968,"y":3720000},{"s":"Cloth","x":975,"y":4020000},{"s":"Cloth","x":980,"y":4040000},{"s":"Cloth","x":987,"y":3720000},{"s":"Cloth","x":995,"y":3220000},{"s":"Cloth","x":1005,"y":3070000},{"s":"Cloth","x":1020,"y":3100000},{"s":"Cloth","x":1040,"y":3140000},{"s":"Cloth","x":1055,"y":3190000},{"s":"Cloth","x":1070,"y":3140000},{"s":"Cloth","x":1085,"y":3170000},{"s":"Cloth","x":1100,"y":3160000},{"s":"Cloth","x":1120,"y":3160000},{"s":"Cloth","x":1140,"y":3100000},{"s":"Cloth","x":1170,"y":3100000},{"s":"Cloth","x":1200,"y":3100000},{"s":"Cloth","x":1230,"y":3110000},{"s":"Cloth","x":1260,"y":3140000},{"s":"Cloth","x":1290,"y":3140000},{"s":"Cloth","x":1310,"y":3090000},{"s":"Cloth","x":1340,"y":3140000},{"s":"Cloth","x":1370,"y":3170000},{"s":"Cloth","x":1400,"y":3210000},{"s":"Cloth","x":1430,"y":3180000},{"s":"Cloth","x":1460,"y":3180000},{"s":"Cloth","x":1480,"y":3220000},{"s":"Cloth","x":1500,"y":3230000},
{"s":"Leaf","x":300,"y":3050000},{"s":"Leaf","x":320,"y":3140000},{"s":"Leaf","x":340,"y":3180000},{"s":"Leaf","x":360,"y":3130000},{"s":"Leaf","x":380,"y":3220000},{"s":"Leaf","x":395,"y":3300000},{"s":"Leaf","x":400,"y":3220000},{"s":"Leaf","x":430,"y":3220000},{"s":"Leaf","x":445,"y":3540000},{"s":"Leaf","x":456,"y":3570000},{"s":"Leaf","x":465,"y":3460000},{"s":"Leaf","x":475,"y":3280000},{"s":"Leaf","x":490,"y":3360000},{"s":"Leaf","x":500,"y":3260000},{"s":"Leaf","x":530,"y":3180000},{"s":"Leaf","x":560,"y":3240000},{"s":"Leaf","x":590,"y":3220000},{"s":"Leaf","x":605,"y":3340000},{"s":"Leaf","x":620,"y":3440000},{"s":"Leaf","x":635,"y":3360000},{"s":"Leaf","x":650,"y":3240000},{"s":"Leaf","x":670,"y":3330000},{"s":"Leaf","x":680,"y":3240000},{"s":"Leaf","x":700,"y":3220000},{"s":"Leaf","x":730,"y":3210000},{"s":"Leaf","x":760,"y":3220000},{"s":"Leaf","x":790,"y":3260000},{"s":"Leaf","x":800,"y":3330000},{"s":"Leaf","x":830,"y":3320000},{"s":"Leaf","x":850,"y":3270000},{"s":"Leaf","x":870,"y":3340000},{"s":"Leaf","x":890,"y":3360000},{"s":"Leaf","x":910,"y":3340000},{"s":"Leaf","x":930,"y":3390000},{"s":"Leaf","x":950,"y":3420000},{"s":"Leaf","x":960,"y":3820000},{"s":"Leaf","x":968,"y":4630000},{"s":"Leaf","x":974,"y":5090000},{"s":"Leaf","x":978,"y":5190000},{"s":"Leaf","x":984,"y":4830000},{"s":"Leaf","x":990,"y":4230000},{"s":"Leaf","x":997,"y":3720000},{"s":"Leaf","x":1005,"y":3520000},{"s":"Leaf","x":1015,"y":3450000},{"s":"Leaf","x":1030,"y":3620000},{"s":"Leaf","x":1042,"y":3640000},{"s":"Leaf","x":1050,"y":3550000},{"s":"Leaf","x":1060,"y":3620000},{"s":"Leaf","x":1080,"y":3570000},{"s":"Leaf","x":1100,"y":3640000},{"s":"Leaf","x":1115,"y":3650000},{"s":"Leaf","x":1125,"y":3520000},{"s":"Leaf","x":1140,"y":3440000},{"s":"Leaf","x":1160,"y":3450000},{"s":"Leaf","x":1180,"y":3470000},{"s":"Leaf","x":1200,"y":3500000},{"s":"Leaf","x":1230,"y":3520000},{"s":"Leaf","x":1250,"y":3470000},{"s":"Leaf","x":1270,"y":3520000},{"s":"Leaf","x":1300,"y":3470000},{"s":"Leaf","x":1320,"y":3440000},{"s":"Leaf","x":1350,"y":3500000},{"s":"Leaf","x":1370,"y":3550000},{"s":"Leaf","x":1400,"y":3500000},{"s":"Leaf","x":1415,"y":3620000},{"s":"Leaf","x":1430,"y":3580000},{"s":"Leaf","x":1450,"y":3590000},{"s":"Leaf","x":1470,"y":3550000},{"s":"Leaf","x":1485,"y":3700000},{"s":"Leaf","x":1500,"y":3690000}
],
"dT": [{"t":"979 cm-1","x":992,"y":5360000},{"t":"1093 cm-1","x":1139,"y":3860000},{"t":"456 cm-1","x":450,"y":3740000},{"t":"620 cm-1","x":660,"y":3650000}]
},
"concat": [
{
 "width": 1135, "height": 869,
 "title": {"text": "(a)", "dx": -246},
 "resolve": {"axis": {"x": "independent", "y": "independent"}},
 "layer": [
  {"data": {"name": "a"}, "mark": {"type": "line", "clip": true},
   "encoding": {
    "x": {"field": "x", "type": "quantitative", "scale": {"domain": [300, 1500], "nice": false, "zero": false}, "axis": {"orient": "bottom", "values": [400, 600, 800, 1000, 1200, 1400], "format": "d", "tickSize": 16, "labelFontSize": 54, "labelPadding": 10, "title": null}},
    "y": {"field": "y", "type": "quantitative", "scale": {"domain": [2500000, 7500000], "nice": false, "zero": false}, "axis": {"orient": "left", "values": [3000000, 4000000, 5000000, 6000000, 7000000], "tickSize": 17, "labelFontSize": 46, "labelPadding": 11, "labelExpr": "format(datum.value/1000000, 'd') + '×10⁶'", "title": "Intensity (Counts)", "titleFontSize": 50, "titlePadding": 10}},
    "color": {"field": "s", "type": "nominal", "scale": {"domain": ["Woodblock", "Paperboard", "Cloth", "Leaf"], "range": ["#000000", "#ff0000", "#00ff00", "#0000ff"]}, "legend": {"orient": "none"}}
   }},
  {"data": {"name": "aT"}, "mark": {"type": "text", "fontSize": 42, "align": "center", "baseline": "alphabetic", "color": "black"},
   "encoding": {
    "x": {"field": "x", "type": "quantitative", "axis": {"orient": "bottom", "values": [300, 500, 700, 900, 1100, 1300, 1500], "tickSize": 8, "labels": false, "domain": false, "title": null}},
    "y": {"field": "y", "type": "quantitative", "axis": {"orient": "left", "values": [2500000, 3500000, 4500000, 5500000, 6500000, 7500000], "tickSize": 8, "labels": false, "domain": false, "title": null}},
    "text": {"field": "t"}
   }}
 ]
},
{
 "width": 1135, "height": 869,
 "title": {"text": "(b)", "dx": -244},
 "resolve": {"axis": {"x": "independent", "y": "independent"}},
 "layer": [
  {"data": {"name": "b"}, "mark": {"type": "line", "clip": true},
   "encoding": {
    "x": {"field": "x", "type": "quantitative", "scale": {"domain": [300, 1500], "nice": false, "zero": false}, "axis": {"orient": "bottom", "values": [400, 600, 800, 1000, 1200, 1400], "format": "d", "tickSize": 16, "labelFontSize": 54, "labelPadding": 10, "title": null}},
    "y": {"field": "y", "type": "quantitative", "scale": {"domain": [2500000, 7500000], "nice": false, "zero": false}, "axis": {"orient": "left", "values": [3000000, 4000000, 5000000, 6000000, 7000000], "tickSize": 17, "labelFontSize": 46, "labelPadding": 11, "labelExpr": "format(datum.value/1000000, 'd') + '×10⁶'", "title": "Intensity (Counts)", "titleFontSize": 50, "titlePadding": 10}},
    "color": {"field": "s", "type": "nominal", "scale": {"domain": ["Woodblock", "Paperboard", "Cloth", "Leaf"], "range": ["#000000", "#ff0000", "#00ff00", "#0000ff"]}, "legend": {"orient": "none"}}
   }},
  {"data": {"name": "bT"}, "mark": {"type": "text", "fontSize": 42, "align": "center", "baseline": "alphabetic", "color": "black"},
   "encoding": {
    "x": {"field": "x", "type": "quantitative", "axis": {"orient": "bottom", "values": [300, 500, 700, 900, 1100, 1300, 1500], "tickSize": 8, "labels": false, "domain": false, "title": null}},
    "y": {"field": "y", "type": "quantitative", "axis": {"orient": "left", "values": [2500000, 3500000, 4500000, 5500000, 6500000, 7500000], "tickSize": 8, "labels": false, "domain": false, "title": null}},
    "text": {"field": "t"}
   }}
 ]
},
{
 "width": 1135, "height": 869,
 "title": {"text": "(c)", "dx": -246},
 "resolve": {"axis": {"x": "independent", "y": "independent"}},
 "layer": [
  {"data": {"name": "c"}, "mark": {"type": "line", "clip": true},
   "encoding": {
    "x": {"field": "x", "type": "quantitative", "scale": {"domain": [300, 1500], "nice": false, "zero": false}, "axis": {"orient": "bottom", "values": [400, 600, 800, 1000, 1200, 1400], "format": "d", "tickSize": 16, "labelFontSize": 54, "labelPadding": 10, "title": "Wavenumber （cm⁻¹）", "titleFontSize": 55, "titlePadding": 43}},
    "y": {"field": "y", "type": "quantitative", "scale": {"domain": [2500000, 7500000], "nice": false, "zero": false}, "axis": {"orient": "left", "values": [3000000, 4000000, 5000000, 6000000, 7000000], "tickSize": 17, "labelFontSize": 46, "labelPadding": 11, "labelExpr": "format(datum.value/1000000, 'd') + '×10⁶'", "title": "Intensity (Counts)", "titleFontSize": 50, "titlePadding": 10}},
    "color": {"field": "s", "type": "nominal", "scale": {"domain": ["Woodblock", "Paperboard", "Cloth", "Leaf"], "range": ["#000000", "#ff0000", "#00ff00", "#0000ff"]}, "legend": {"orient": "none"}}
   }},
  {"data": {"name": "cT"}, "mark": {"type": "text", "fontSize": 42, "align": "center", "baseline": "alphabetic", "color": "black"},
   "encoding": {
    "x": {"field": "x", "type": "quantitative", "axis": {"orient": "bottom", "values": [300, 500, 700, 900, 1100, 1300, 1500], "tickSize": 8, "labels": false, "domain": false, "title": null}},
    "y": {"field": "y", "type": "quantitative", "axis": {"orient": "left", "values": [2500000, 3500000, 4500000, 5500000, 6500000, 7500000], "tickSize": 8, "labels": false, "domain": false, "title": null}},
    "text": {"field": "t"}
   }}
 ]
},
{
 "width": 1135, "height": 869,
 "title": {"text": "(d)", "dx": -248},
 "resolve": {"axis": {"x": "independent", "y": "independent"}},
 "layer": [
  {"data": {"name": "d"}, "mark": {"type": "line", "clip": true},
   "encoding": {
    "x": {"field": "x", "type": "quantitative", "scale": {"domain": [300, 1500], "nice": false, "zero": false}, "axis": {"orient": "bottom", "values": [400, 600, 800, 1000, 1200, 1400], "format": "d", "tickSize": 16, "labelFontSize": 54, "labelPadding": 10, "title": "Wavenumber （cm⁻¹）", "titleFontSize": 55, "titlePadding": 43}},
    "y": {"field": "y", "type": "quantitative", "scale": {"domain": [2500000, 7500000], "nice": false, "zero": false}, "axis": {"orient": "left", "values": [3000000, 4000000, 5000000, 6000000, 7000000], "tickSize": 17, "labelFontSize": 46, "labelPadding": 11, "labelExpr": "format(datum.value/1000000, 'd') + '×10⁶'", "title": "Intensity (Counts)", "titleFontSize": 50, "titlePadding": 10}},
    "color": {"field": "s", "type": "nominal", "scale": {"domain": ["Woodblock", "Paperboard", "Cloth", "Leaf"], "range": ["#000000", "#ff0000", "#00ff00", "#0000ff"]}, "legend": {"orient": "none"}}
   }},
  {"data": {"name": "dT"}, "mark": {"type": "text", "fontSize": 42, "align": "center", "baseline": "alphabetic", "color": "black"},
   "encoding": {
    "x": {"field": "x", "type": "quantitative", "axis": {"orient": "bottom", "values": [300, 500, 700, 900, 1100, 1300, 1500], "tickSize": 8, "labels": false, "domain": false, "title": null}},
    "y": {"field": "y", "type": "quantitative", "axis": {"orient": "left", "values": [2500000, 3500000, 4500000, 5500000, 6500000, 7500000], "tickSize": 8, "labels": false, "domain": false, "title": null}},
    "text": {"field": "t"}
   }}
 ]
}
]
}
